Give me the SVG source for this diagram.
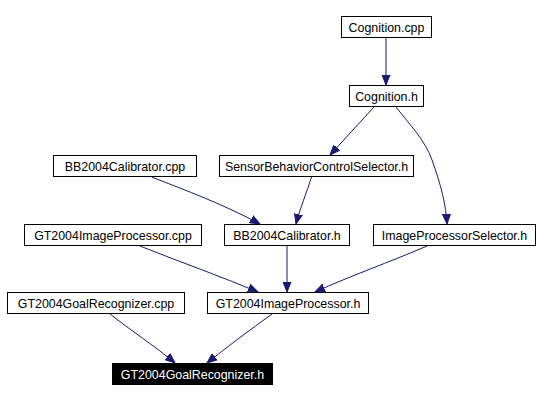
<svg xmlns="http://www.w3.org/2000/svg" width="539" height="401" viewBox="0 0 539 401">
<defs>
<style>
.n rect{fill:#fff;stroke:#000;stroke-width:1}
.n text{font-family:"Liberation Sans",Arial,sans-serif;font-size:12.4px;fill:#000;text-anchor:middle}
#n10 rect{fill:#000}
#n10 text{fill:#fff}
.e path{fill:none;stroke:#191970;stroke-width:1;marker-end:url(#a)}
</style>
<marker id="a" markerUnits="userSpaceOnUse" markerWidth="12" markerHeight="9" refX="10" refY="4.5" orient="auto">
<path d="M0,0.5 L10,4.5 L0,8.5 z" fill="#191970" stroke="#191970" stroke-width="1"/>
</marker>
</defs>
<rect width="539" height="401" fill="#fff"/>
<g id="edges" class="e">
<path d="M386,37 L386,85"/>
<path d="M374,107 L330,155"/>
<path d="M396,107 C410,125 425,140 432,160 C441,185 446,205 447,224"/>
<path d="M311.5,177 C307,192 300,208 296,224"/>
<path d="M151.5,177 C185,190 225,205 260,224"/>
<path d="M140,246 C180,262 220,276 258,292"/>
<path d="M287,246 L287,292"/>
<path d="M427,246 C390,262 350,276 315,292"/>
<path d="M110,314 C130,330 155,346 175,363"/>
<path d="M272,314 C250,330 228,346 207,363"/>
</g>
<g id="n1" class="n"><rect x="341.5" y="16.5" width="90" height="21"/><text x="386.5" y="31.5">Cognition.cpp</text></g>
<g id="n2" class="n"><rect x="349.5" y="85.5" width="74" height="21"/><text x="386.5" y="100.5">Cognition.h</text></g>
<g id="n3" class="n"><rect x="219.5" y="155.5" width="194" height="21"/><text x="316.5" y="170.5">SensorBehaviorControlSelector.h</text></g>
<g id="n4" class="n"><rect x="53.5" y="155.5" width="143" height="21"/><text x="125" y="170.5">BB2004Calibrator.cpp</text></g>
<g id="n5" class="n"><rect x="24.5" y="224.5" width="177" height="21"/><text x="113" y="239.5">GT2004ImageProcessor.cpp</text></g>
<g id="n6" class="n"><rect x="224.5" y="224.5" width="125" height="21"/><text x="287" y="239.5">BB2004Calibrator.h</text></g>
<g id="n7" class="n"><rect x="373.5" y="224.5" width="162" height="21"/><text x="454.5" y="239.5">ImageProcessorSelector.h</text></g>
<g id="n8" class="n"><rect x="7.5" y="292.5" width="177" height="21"/><text x="96" y="307.5">GT2004GoalRecognizer.cpp</text></g>
<g id="n9" class="n"><rect x="207.5" y="292.5" width="161" height="21"/><text x="288" y="307.5">GT2004ImageProcessor.h</text></g>
<g id="n10" class="n"><rect x="112.5" y="363.5" width="160" height="21"/><text x="192.5" y="378.5">GT2004GoalRecognizer.h</text></g>
</svg>
